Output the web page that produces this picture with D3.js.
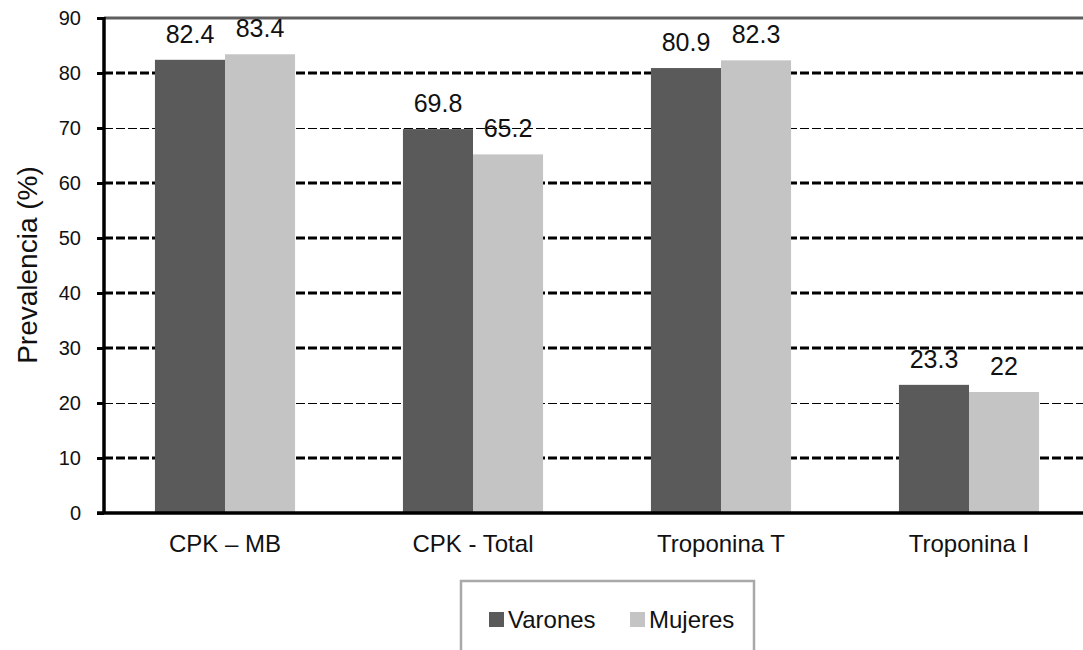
<!DOCTYPE html>
<html>
<head>
<meta charset="utf-8">
<script src="https://cdn.jsdelivr.net/npm/d3@7"></script>
<style>
  html, body { margin: 0; padding: 0; background: #fff; }
  svg { display: block; font-family: "Liberation Sans", Arial, sans-serif; }
</style>
</head>
<body>
<svg id="chart" width="1083" height="650"></svg>
<script>
// Prevalence of elevated cardiac markers by sex
const categories = ["CPK \u2013 MB", "CPK - Total", "Troponina T", "Troponina I"];
const seriesNames = ["Varones", "Mujeres"];
const varones = [82.4, 69.8, 80.9, 23.3];
const mujeres = [83.4, 65.2, 82.3, 22];
const yTicks = [0, 10, 20, 30, 40, 50, 60, 70, 80, 90];
const yTitle = "Prevalencia (%)";

const colors = { Varones: "#5a5a5a", Mujeres: "#c4c4c4" };

const svg = d3.select("#chart");

const plot = { left: 104, right: 1083, top: 18, bottom: 513 };

const x0 = d3.scaleBand()
  .domain(categories)
  .range([101, 1093])
  .paddingInner(0.435)
  .paddingOuter(0.2175);

const x1 = d3.scaleBand()
  .domain(seriesNames)
  .range([0, x0.bandwidth()]);

const y = d3.scaleLinear()
  .domain([0, 90])
  .range([plot.bottom, plot.top]);

const rows = categories.map((c, i) => ({
  category: c,
  values: [
    { name: "Varones", value: varones[i] },
    { name: "Mujeres", value: mujeres[i] }
  ]
}));

// dashed gridlines (the lighter ones are thinner)
const lightGrid = new Set([20, 70]);
svg.append("g")
  .selectAll("line")
  .data(yTicks.filter(t => t > 0 && t < 90))
  .join("line")
  .attr("x1", plot.left)
  .attr("x2", plot.right)
  .attr("y1", d => Math.round(y(d)) + (lightGrid.has(d) ? 0.5 : 0))
  .attr("y2", d => Math.round(y(d)) + (lightGrid.has(d) ? 0.5 : 0))
  .attr("stroke", "#000")
  .attr("stroke-width", d => lightGrid.has(d) ? 1 : 3)
  .attr("stroke-dasharray", "9,3");

// top border of the plot area
svg.append("line")
  .attr("x1", plot.left)
  .attr("x2", plot.right)
  .attr("y1", y(90))
  .attr("y2", y(90))
  .attr("stroke", "#5e5e5e")
  .attr("stroke-width", 3);

// bars
const groups = svg.append("g")
  .selectAll("g")
  .data(rows)
  .join("g")
  .attr("transform", d => `translate(${x0(d.category)},0)`);

groups.selectAll("rect")
  .data(d => d.values)
  .join("rect")
  .attr("x", d => x1(d.name))
  .attr("y", d => y(d.value))
  .attr("width", x1.bandwidth())
  .attr("height", d => y(0) - y(d.value))
  .attr("fill", d => colors[d.name]);

// value labels
groups.selectAll("text")
  .data(d => d.values)
  .join("text")
  .attr("x", d => x1(d.name) + x1.bandwidth() / 2)
  .attr("y", d => y(d.value) - 17)
  .attr("text-anchor", "middle")
  .attr("font-size", 25)
  .attr("fill", "#111")
  .text(d => d.value);

// y axis
const yAxis = d3.axisLeft(y)
  .tickValues(yTicks)
  .tickSize(7)
  .tickPadding(16)
  .tickFormat(d3.format("d"));

const gy = svg.append("g")
  .attr("transform", `translate(${plot.left},0)`)
  .call(yAxis);
gy.select(".domain")
  .attr("d", `M0,${plot.top - 1}V${plot.bottom + 1}`)
  .attr("stroke", "#000")
  .attr("stroke-width", 3.5);
gy.selectAll(".tick line").attr("stroke", "#000").attr("stroke-width", 3);
gy.selectAll(".tick text")
  .attr("font-size", 20)
  .attr("font-family", "'Liberation Sans', Arial, sans-serif")
  .attr("fill", "#111");

// x axis baseline
svg.append("line")
  .attr("x1", plot.left - 7)
  .attr("x2", plot.right)
  .attr("y1", y(0))
  .attr("y2", y(0))
  .attr("stroke", "#000")
  .attr("stroke-width", 3.5);

// category labels
svg.append("g")
  .selectAll("text")
  .data(categories)
  .join("text")
  .attr("x", d => x0(d) + x0.bandwidth() / 2)
  .attr("y", 552)
  .attr("text-anchor", "middle")
  .attr("font-size", 24)
  .attr("fill", "#111")
  .text(d => d);

// y axis title
svg.append("text")
  .attr("transform", "translate(37,265) rotate(-90)")
  .attr("text-anchor", "middle")
  .attr("font-size", 28)
  .attr("fill", "#111")
  .text(yTitle);

// legend
const legend = svg.append("g");
legend.append("rect")
  .attr("x", 461)
  .attr("y", 581)
  .attr("width", 293)
  .attr("height", 90)
  .attr("fill", "#fff")
  .attr("stroke", "#a9a9a9")
  .attr("stroke-width", 2.5);

const legendX = [489, 630];
const items = legend.selectAll("g.item")
  .data(seriesNames)
  .join("g")
  .attr("class", "item")
  .attr("transform", (d, i) => `translate(${legendX[i]},612)`);
items.append("rect")
  .attr("width", 15)
  .attr("height", 15)
  .attr("fill", d => colors[d]);
items.append("text")
  .attr("x", 19)
  .attr("y", 16)
  .attr("font-size", 24)
  .attr("fill", "#111")
  .text(d => d);
</script>
</body>
</html>
